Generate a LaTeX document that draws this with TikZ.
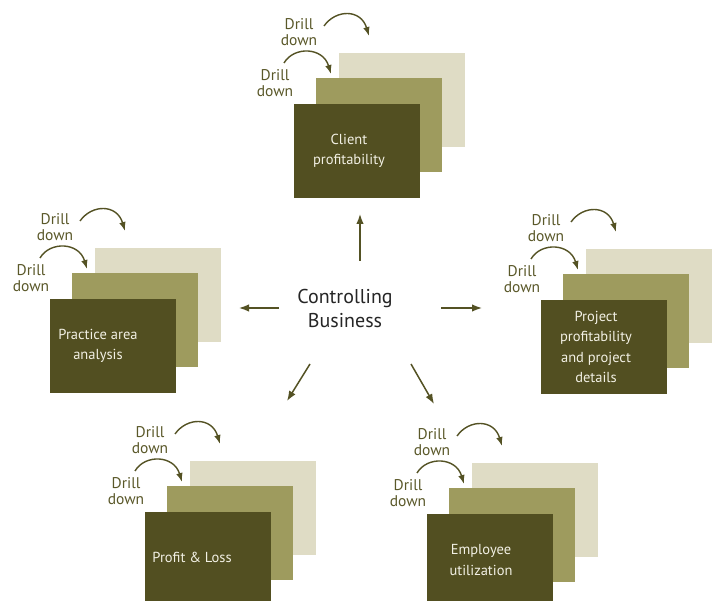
\documentclass[tikz,border=0pt]{standalone}
\usepackage{fontspec}
\setmainfont{PT Sans}
\usetikzlibrary{arrows.meta}
\definecolor{olfront}{HTML}{524F21}
\definecolor{olmid}{HTML}{9E9B5E}
\definecolor{olback}{HTML}{DFDCC5}
\definecolor{oltext}{HTML}{5A5829}
\definecolor{olarrow}{HTML}{545224}
\definecolor{centertext}{HTML}{262626}
\definecolor{cardfont}{HTML}{F2F0E4}
\tikzset{
  card/.style={draw=none, minimum width=126pt, minimum height=94pt, inner sep=0pt, anchor=north west},
  backcard/.style={card, fill=olback},
  midcard/.style={card, fill=olmid},
  frontcard/.style={card, fill=olfront},
  drilltxt/.style={text=oltext, font=\fontsize{15.5}{16}\selectfont, align=center, inner sep=0pt},
  cardtxt/.style={text=cardfont, font=\fontsize{14.5}{20.5}\selectfont, align=center, inner sep=0pt},
  centertxt/.style={text=centertext, font=\fontsize{20}{24}\selectfont, align=center, inner sep=0pt},
  flow/.style={draw=olarrow, line width=1.5pt, -{Latex[length=10pt,width=7.5pt]}},
  drillarrow/.style={draw=olarrow, line width=1.4pt, -{Latex[length=9pt,width=6.5pt]}}
}
% #1 name, #2 #3 front top-left, #4 text, #5 #6 text centre
\newcommand\olstack[6]{%
  \node[backcard] (#1-back) at ({#2+45},{#3-51}) {};
  \node[midcard] (#1-mid) at ({#2+22},{#3-26}) {};
  \node[frontcard] (#1-front) at (#2,#3) {};
  \node[cardtxt] (#1-txt) at (#5,#6) {#4};
  \node[drilltxt] (#1-d1) at ({#2+5},{#3-72}) {Drill\\down};
  \node[drilltxt] (#1-d2) at ({#2-19},{#3-21}) {Drill\\down};
  \coordinate (#1-u1) at ({#2+30},{#3-78});
  \coordinate (#1-u2) at ({#2+75},{#3-68});
  \coordinate (#1-l1) at ({#2-10},{#3-41});
  \coordinate (#1-l2) at ({#2+37},{#3-30});
  \draw[drillarrow] (#1-u1) .. controls ({#2+42},{#3-95}) and ({#2+67},{#3-95}) .. (#1-u2);
  \draw[drillarrow] (#1-l1) .. controls ({#2},{#3-58}) and ({#2+29},{#3-57}) .. (#1-l2);
}
\begin{document}
\begin{tikzpicture}[x=1pt,y=-1pt]
\useasboundingbox (0,0) rectangle (718,601);
\fill[white] (0,0) rectangle (718,601);

\olstack{client}{294}{104}{Client\\profitability}{349}{151}
\olstack{practice}{50}{299}{Practice area\\analysis}{98}{346}
\olstack{project}{541}{300}{Project\\profitability\\and project\\details}{596}{347}
\olstack{profit}{145}{512}{Profit \& Loss}{192}{557}
\olstack{employee}{427}{514}{Employee\\utilization}{481}{560}

\node[centertxt] (ctr) at (345,309) {Controlling\\Business};

\coordinate (s-up) at (360,261);   \coordinate (e-up) at (360,214);
\coordinate (s-left) at (279,308); \coordinate (e-left) at (239,308);
\coordinate (s-right) at (441,308);\coordinate (e-right) at (482,308);
\coordinate (s-dl) at (310,364);   \coordinate (e-dl) at (287,401);
\coordinate (s-dr) at (411,364);   \coordinate (e-dr) at (434,404);

\draw[flow] (s-up) -- (e-up);
\draw[flow] (s-left) -- (e-left);
\draw[flow] (s-right) -- (e-right);
\draw[flow] (s-dl) -- (e-dl);
\draw[flow] (s-dr) -- (e-dr);
\end{tikzpicture}
\end{document}
